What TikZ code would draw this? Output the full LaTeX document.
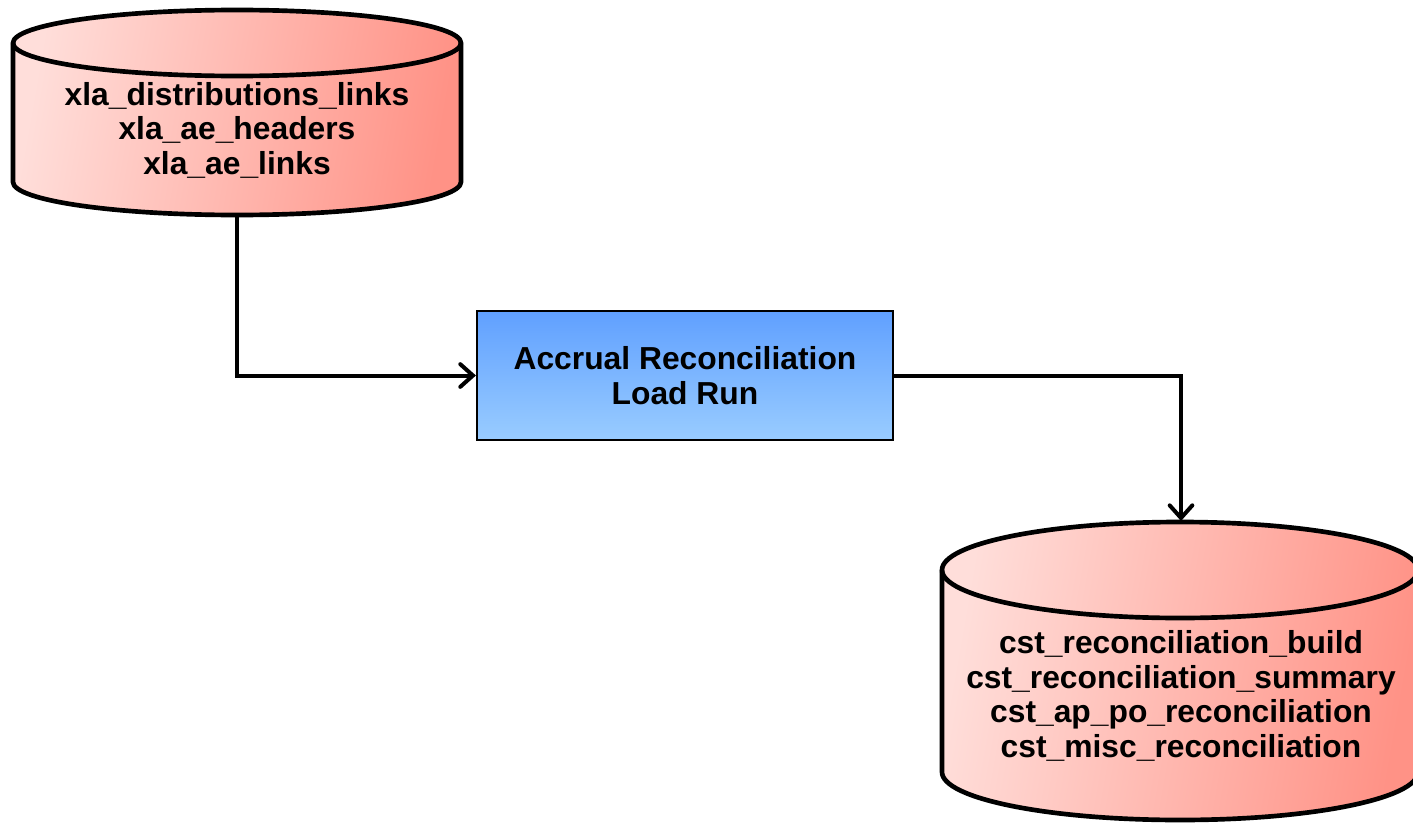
\documentclass[tikz,border=0pt]{standalone}
\usepackage{fontspec}
\setmainfont{Liberation Sans}
\usetikzlibrary{arrows.meta}

\definecolor{dbl}{RGB}{255,222,218}
\definecolor{dbr}{RGB}{255,146,134}
\definecolor{runtop}{RGB}{96,160,255}
\definecolor{runbot}{RGB}{153,204,255}

% database cylinder: centre x, x radius, top ellipse y, bottom ellipse y, y radius
\newcommand\drawdbcyl[5]{%
  \path[dbfill] (#1-#2,-#3) -- (#1-#2,-#4)
    arc[start angle=180,end angle=360,x radius=#2,y radius=#5]
    -- (#1+#2,-#3)
    arc[start angle=0,end angle=180,x radius=#2,y radius=#5] -- cycle;
  \draw[dbline] (#1-#2,-#3) -- (#1-#2,-#4)
    arc[start angle=180,end angle=360,x radius=#2,y radius=#5]
    -- (#1+#2,-#3)
    arc[start angle=0,end angle=180,x radius=#2,y radius=#5] -- cycle;
  \draw[dbline] (#1-#2,-#3)
    arc[start angle=180,end angle=360,x radius=#2,y radius=#5];
}

\begin{document}
\begin{tikzpicture}[x=0.75pt,y=0.75pt,
  txt/.style={font=\bfseries\fontsize{23.85}{25.9}\selectfont, align=center, inner sep=0pt},
  dbfill/.style={left color=dbl, right color=dbr, shading angle=80},
  dbline/.style={line width=3.5pt, line join=round},
  runbox/.style={txt, draw, line width=1.6pt, top color=runtop, bottom color=runbot,
    minimum width=312pt, minimum height=96.75pt},
  flow/.style={line width=3pt, line join=miter,
    -{Straight Barb[length=9.5pt,width=17pt,line width=3pt,line cap=round]}},
]
\useasboundingbox (0,0) rectangle (1413,-824);
\clip (0,0) rectangle (1413,-824);

% source tables
\drawdbcyl{237}{224}{43}{182}{33}
\node[txt] (src) at (237,-130) {xla\_distributions\_links\\xla\_ae\_headers\\xla\_ae\_links};
\coordinate (srcbot) at (237,-216);

% target tables
\drawdbcyl{1180}{238}{570}{772}{48}
\node[txt] (dst) at (1181,-696) {cst\_reconciliation\_build\\cst\_reconciliation\_summary\\cst\_ap\_po\_reconciliation\\cst\_misc\_reconciliation};
\coordinate (dsttop) at (1181,-521);

% process
\node[runbox] (run) at (685,-375.5) {Accrual Reconciliation\\Load Run};

% data flow
\draw[flow] (srcbot) |- (run.west);
\draw[flow] (run.east) -| (dsttop);
\end{tikzpicture}
\end{document}
